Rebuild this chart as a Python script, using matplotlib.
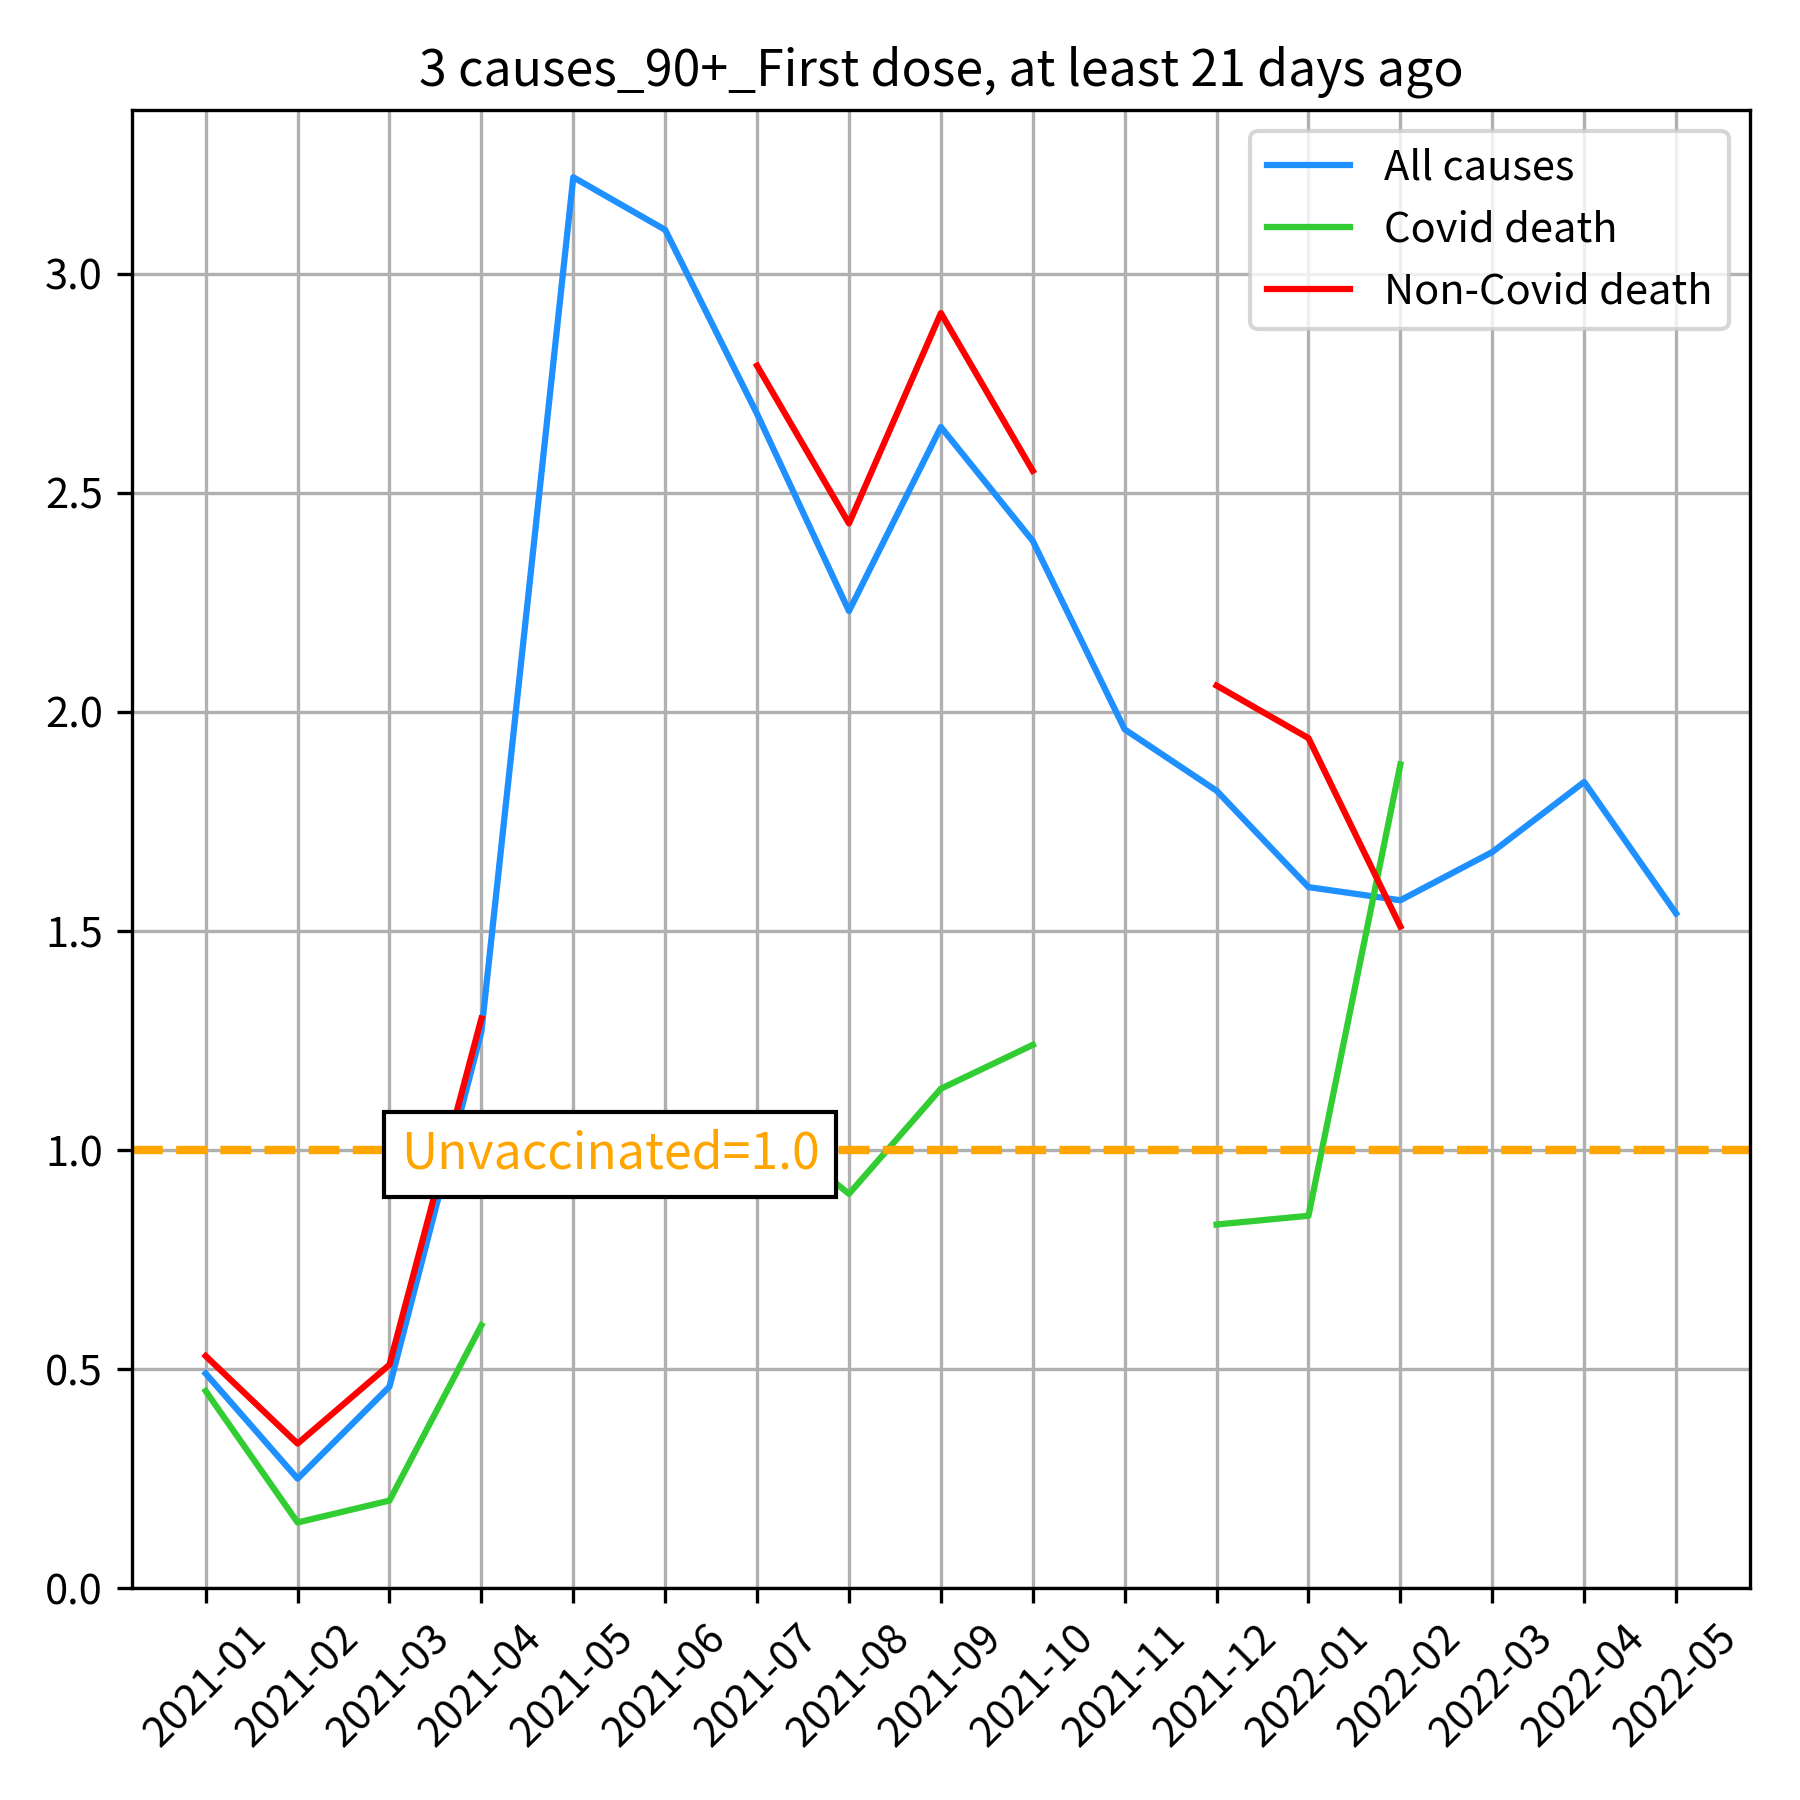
import numpy as np
import matplotlib
matplotlib.use("Agg")
import matplotlib.pyplot as plt

plt.rcParams['font.family'] = ['Noto Sans CJK JP', 'DejaVu Sans']

months = ["2021-01", "2021-02", "2021-03", "2021-04", "2021-05", "2021-06",
          "2021-07", "2021-08", "2021-09", "2021-10", "2021-11", "2021-12",
          "2022-01", "2022-02", "2022-03", "2022-04", "2022-05"]
nan = np.nan
all_causes = [0.49, 0.25, 0.46, 1.27, 3.22, 3.10, 2.68, 2.23, 2.65, 2.39,
              1.96, 1.82, 1.60, 1.57, 1.68, 1.84, 1.54]
covid = [0.45, 0.15, 0.20, 0.60, nan, 1.00, 1.07, 0.90, 1.14, 1.24,
         nan, 0.83, 0.85, 1.88, nan, nan, nan]
non_covid = [0.53, 0.33, 0.51, 1.30, nan, nan, 2.79, 2.43, 2.91, 2.55,
             nan, 2.06, 1.94, 1.51, nan, nan, nan]

fig, ax = plt.subplots(figsize=(6, 6), dpi=300)
x = np.arange(len(months))
ax.plot(x, all_causes, color='dodgerblue', lw=1.5, label='All causes')
ax.plot(x, covid, color='limegreen', lw=1.5, label='Covid death')
ax.plot(x, non_covid, color='red', lw=1.5, label='Non-Covid death')
ax.axhline(1.0, color='orange', ls='--', lw=2)
ax.text(4.4, 0.99, 'Unvaccinated=1.0', color='orange', fontsize=12,
        ha='center', va='center', zorder=5,
        bbox=dict(facecolor='white', edgecolor='black'))
ax.set_xticks(x)
ax.set_xticklabels(months, rotation=45)
ax.set_ylim(bottom=0)
ax.grid(True)
ax.legend(loc='upper right')
ax.set_title('3 causes_90+_First dose, at least 21 days ago')
fig.tight_layout()
fig.savefig('out.png')
